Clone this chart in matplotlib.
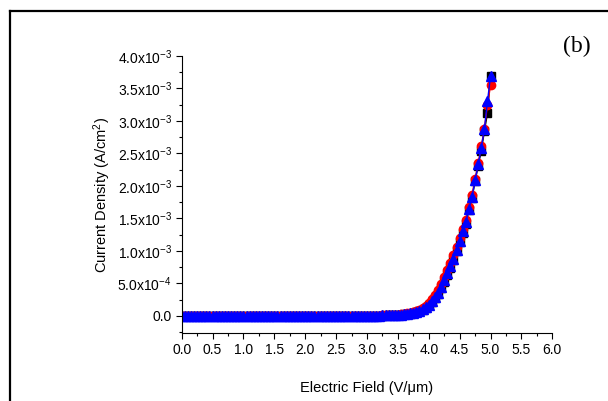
import matplotlib
matplotlib.use("Agg")
import matplotlib.pyplot as plt
from matplotlib.ticker import MultipleLocator
from matplotlib.lines import Line2D

plt.rcParams['font.family'] = ['Liberation Sans', 'DejaVu Sans']
plt.rcParams['mathtext.fontset'] = 'custom'
plt.rcParams['mathtext.rm'] = 'Liberation Sans'
plt.rcParams['mathtext.it'] = 'Liberation Sans:italic'
plt.rcParams['mathtext.default'] = 'regular'
plt.rcParams['axes.unicode_minus'] = False

# Electric field (V/um), 0.00 .. 5.00 step 0.05
field = [0.00, 0.05, 0.10, 0.15, 0.20, 0.25, 0.30, 0.35, 0.40, 0.45,
         0.50, 0.55, 0.60, 0.65, 0.70, 0.75, 0.80, 0.85, 0.90, 0.95,
         1.00, 1.05, 1.10, 1.15, 1.20, 1.25, 1.30, 1.35, 1.40, 1.45,
         1.50, 1.55, 1.60, 1.65, 1.70, 1.75, 1.80, 1.85, 1.90, 1.95,
         2.00, 2.05, 2.10, 2.15, 2.20, 2.25, 2.30, 2.35, 2.40, 2.45,
         2.50, 2.55, 2.60, 2.65, 2.70, 2.75, 2.80, 2.85, 2.90, 2.95,
         3.00, 3.05, 3.10, 3.15, 3.20, 3.25, 3.30, 3.35, 3.40, 3.45,
         3.50, 3.55, 3.60, 3.65, 3.70, 3.75, 3.80, 3.85, 3.90, 3.95,
         4.00, 4.05, 4.10, 4.15, 4.20, 4.25, 4.30, 4.35, 4.40, 4.45,
         4.50, 4.55, 4.60, 4.65, 4.70, 4.75, 4.80, 4.85, 4.90, 4.95,
         5.00]

# Current density in units of 1e-3 A/cm^2
low = [0.0] * 50  # 0.00 .. 2.45
j_black = low + [0.000, 0.000, 0.001, 0.001, 0.001, 0.001, 0.001, 0.001, 0.001, 0.002,
                 0.002, 0.002, 0.002, 0.003, 0.003, 0.004, 0.005, 0.006, 0.008, 0.010,
                 0.012, 0.016, 0.020, 0.026, 0.034, 0.044, 0.056, 0.072, 0.093, 0.122,
                 0.160, 0.208, 0.270, 0.340, 0.425, 0.525, 0.635, 0.740, 0.860, 1.000,
                 1.130, 1.280, 1.420, 1.630, 1.810, 2.070, 2.310, 2.540, 2.840, 3.120,
                 3.690]
j_red = low + [0.000, 0.000, 0.001, 0.001, 0.001, 0.001, 0.001, 0.002, 0.002, 0.002,
               0.002, 0.003, 0.003, 0.004, 0.004, 0.005, 0.007, 0.009, 0.011, 0.013,
               0.016, 0.021, 0.027, 0.036, 0.046, 0.059, 0.075, 0.096, 0.122, 0.156,
               0.200, 0.255, 0.320, 0.400, 0.490, 0.590, 0.700, 0.810, 0.930, 1.060,
               1.190, 1.340, 1.480, 1.680, 1.860, 2.110, 2.350, 2.610, 2.880, 3.240,
               3.550]
j_blue = low + [0.000, 0.000, 0.001, 0.001, 0.001, 0.001, 0.001, 0.001, 0.002, 0.002,
                0.002, 0.002, 0.003, 0.003, 0.004, 0.005, 0.006, 0.007, 0.009, 0.011,
                0.014, 0.018, 0.023, 0.030, 0.038, 0.049, 0.062, 0.079, 0.100, 0.130,
                0.170, 0.220, 0.285, 0.355, 0.445, 0.545, 0.655, 0.760, 0.880, 1.020,
                1.150, 1.300, 1.440, 1.650, 1.830, 2.090, 2.330, 2.590, 2.870, 3.300,
                3.690]

ytick_vals = [0.0, 0.5e-3, 1.0e-3, 1.5e-3, 2.0e-3, 2.5e-3, 3.0e-3, 3.5e-3, 4.0e-3]
ytick_labels = ['0.0', r'5.0x10$^{-4}$', r'1.0x10$^{-3}$', r'1.5x10$^{-3}$', r'2.0x10$^{-3}$',
                r'2.5x10$^{-3}$', r'3.0x10$^{-3}$', r'3.5x10$^{-3}$', r'4.0x10$^{-3}$']
xtick_vals = [0.0, 0.5, 1.0, 1.5, 2.0, 2.5, 3.0, 3.5, 4.0, 4.5, 5.0, 5.5, 6.0]

fig = plt.figure(figsize=(6.08, 4.01), dpi=100)
ax = fig.add_axes([0.2988, 0.1688, 0.6096, 0.6915])

def scaled(vals):
    return [v * 1e-3 for v in vals]

ax.plot(field, scaled(j_black), color='black', marker='s', ms=5.5, lw=1.0, mec='black', mfc='black')
ax.plot(field, scaled(j_red), color='red', marker='o', ms=6, lw=1.0, mec='red', mfc='red')
ax.plot(field, scaled(j_blue), color='blue', marker='^', ms=6.5, lw=1.0, mec='blue', mfc='blue')

ax.set_xlim(0.0, 6.0)
ax.set_ylim(-0.27e-3, 4.0e-3)
ax.set_xticks(xtick_vals)
ax.set_xticklabels(['%.1f' % v for v in xtick_vals])
ax.set_yticks(ytick_vals)
ax.set_yticklabels(ytick_labels)
ax.xaxis.set_minor_locator(MultipleLocator(0.25))
ax.yaxis.set_minor_locator(MultipleLocator(0.25e-3))
ax.tick_params(which='major', direction='out', length=4, width=0.8, labelsize=10, pad=3)
ax.tick_params(which='minor', direction='out', length=2.5, width=0.8)
ax.spines['top'].set_visible(False)
ax.spines['right'].set_visible(False)
ax.spines['left'].set_linewidth(0.8)
ax.spines['bottom'].set_linewidth(0.8)

ax.set_xlabel('Electric Field (V/\u03bcm)', fontsize=10.5, labelpad=17)
ax.set_ylabel(r'Current Density (A/cm$^{2}$)', fontsize=10.5, labelpad=3)

fig.text(0.972, 0.885, '(b)', fontsize=17, family='Liberation Serif', ha='right', va='center')

# outer frame lines (left and top)
fig.add_artist(Line2D([9.5 / 608, 9.5 / 608], [0, 1 - 10.5 / 401], color='black', lw=1.6,
                      transform=fig.transFigure, solid_capstyle='projecting'))
fig.add_artist(Line2D([9.5 / 608, 1.0], [1 - 10.5 / 401, 1 - 10.5 / 401], color='black', lw=1.6,
                      transform=fig.transFigure, solid_capstyle='projecting'))

fig.savefig('out.png', dpi=100)
